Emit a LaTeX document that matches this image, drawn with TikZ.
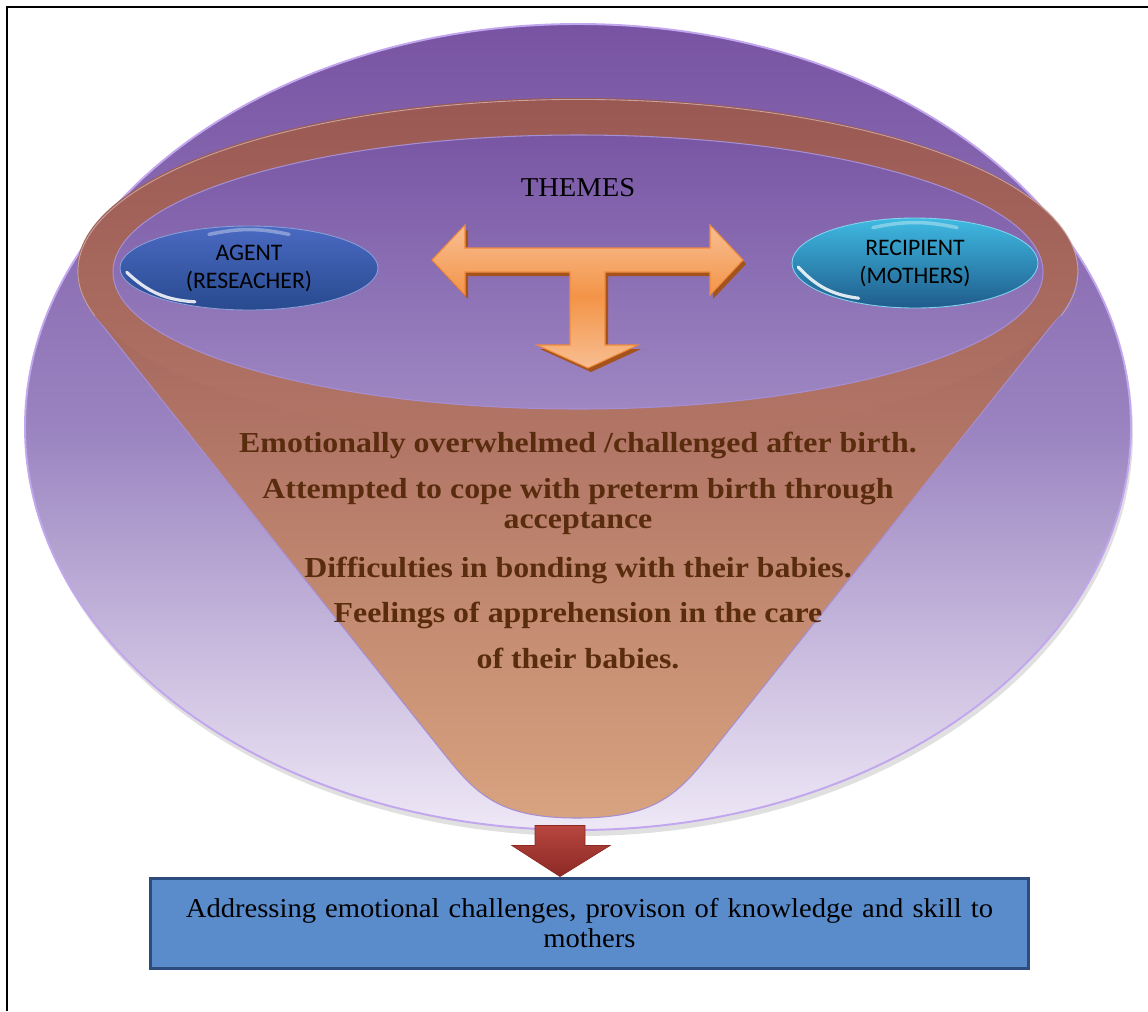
\documentclass[tikz,border=0pt]{standalone}
\usepackage{fontspec}
\setmainfont{Liberation Serif}
\newfontfamily\bubblefont{Carlito}
\newfontfamily\themefont[FakeStretch=1.1]{Liberation Serif}
\newfontfamily\boxfont[FakeStretch=1.05]{Liberation Serif}
\usepackage{tikz}
\usetikzlibrary{positioning,shapes.geometric,calc}
\usepackage{xcolor}
\definecolor{bowltop}{HTML}{7853A3}
\definecolor{bowlmid}{HTML}{9A83C0}
\definecolor{bowlbot}{HTML}{EEE8F6}
\definecolor{bowledge}{HTML}{C2A6EE}
\definecolor{rimtop}{HTML}{9A5853}
\definecolor{rimbot}{HTML}{B27666}
\definecolor{funneltop}{HTML}{A5675E}
\definecolor{funnelbot}{HTML}{D8A37F}
\definecolor{inneredge}{HTML}{A68ED2}
\definecolor{innertop}{HTML}{7856A4}
\definecolor{innerbot}{HTML}{9E87C3}
\definecolor{agenttop}{HTML}{4A69C2}
\definecolor{agentbot}{HTML}{284A8E}
\definecolor{reciptop}{HTML}{3FBAE2}
\definecolor{recipbot}{HTML}{1F5C8C}
\definecolor{tlight}{HTML}{F8BE92}
\definecolor{tdeep}{HTML}{F39447}
\definecolor{tline}{HTML}{EF8A3C}
\definecolor{tshadow}{HTML}{A4531C}
\definecolor{themetext}{HTML}{5A2C0E}
\definecolor{droptop}{HTML}{B8463F}
\definecolor{dropbot}{HTML}{8C2925}
\definecolor{boxfill}{HTML}{5A8BCB}
\definecolor{boxline}{HTML}{2C4C7E}

\begin{document}
\begin{tikzpicture}[
  x=0.02cm, y=-0.02cm,
  bubble/.style={ellipse, inner sep=0pt, align=center, draw=white!35!#1, line width=0.5pt,
    font=\bubblefont\fontsize{13.5}{16}\selectfont},
  theme/.style={anchor=base, font=\themefont\bfseries\fontsize{16.5}{18}\selectfont, text=themetext},
  glint/.style={white, line width=1.8pt, line cap=round, opacity=0.85},
  outbox/.style={draw=boxline, line width=1.7pt, fill=boxfill, minimum width=17.58cm,
    minimum height=1.8cm, text width=17.3cm, align=center, font=\boxfont\fontsize{15.5}{17}\selectfont}
]
\useasboundingbox (0,0) rectangle (1148,1011);
\draw[line width=1.5pt] (7,1011) -- (7,7) -- (1148,7);

% bowl, funnel and rim
\fill[black!12] (580,433) ellipse [x radius=553, y radius=403];
\shadedraw[top color=bowltop, bottom color=bowlbot, middle color=bowlmid, draw=bowledge, line width=1.1pt]
  (578,427) ellipse [x radius=553, y radius=403];
\shadedraw[top color=funneltop, bottom color=funnelbot, draw=inneredge, line width=0.6pt]
  (95,316) -- (445,755) .. controls (477,795) and (500,818) .. (577,818)
  .. controls (654,818) and (677,795) .. (709,755) -- (1059,316) -- cycle;
\shade[top color=rimtop, bottom color=rimbot]
  (577,270) ellipse [x radius=500, y radius=172];
\draw[rimtop!55!white, line width=0.5pt]
  (95,316) arc [start angle=165, end angle=375, x radius=500, y radius=172];
\shadedraw[top color=innertop, bottom color=innerbot, draw=inneredge, line width=0.6pt]
  (578,272) ellipse [x radius=465, y radius=137];

\node[font=\boxfont\fontsize{15.5}{17}\selectfont] (themes) at (578,188) {THEMES};

% T shaped arrow
\shadedraw[top color=tlight, bottom color=tlight, middle color=tdeep, draw=tline, line width=0.6pt,
  preaction={fill=tshadow, transform canvas={shift={(3,4)}}}]
  (432,260) -- (465,225) -- (465,248) -- (710,248) -- (710,225) -- (743,260) -- (710,295)
  -- (710,272) -- (605,272) -- (605,345) -- (638,345) -- (588,368) -- (537,345) -- (570,345)
  -- (570,272) -- (465,272) -- (465,295) -- cycle;

\node[bubble=agenttop, top color=agenttop, bottom color=agentbot, minimum width=5.16cm, minimum height=1.68cm]
  (agent) at (249,268) {AGENT\\(RESEACHER)};
\node[bubble=reciptop, top color=reciptop, bottom color=recipbot, minimum width=4.92cm, minimum height=1.8cm]
  (recipient) at (915,263) {RECIPIENT\\(MOTHERS)};
\draw[glint] ($(agent.center)!0.95!(agent.182)$) to[bend right=20] ($(agent.center)!0.9!(agent.212)$);
\draw[glint] ($(recipient.center)!0.95!(recipient.182)$) to[bend right=20] ($(recipient.center)!0.9!(recipient.212)$);
\draw[white, opacity=0.35, line width=2pt, line cap=round]
  ($(agent.center)!0.85!(agent.140)$) to[bend left=12] ($(agent.center)!0.85!(agent.40)$);
\draw[white, opacity=0.35, line width=2pt, line cap=round]
  ($(recipient.center)!0.85!(recipient.140)$) to[bend left=12] ($(recipient.center)!0.85!(recipient.40)$);

\node[theme] (t1) at (578,452) {Emotionally overwhelmed /challenged after birth.};
\node[theme] (t2) at (578,498) {Attempted to cope with preterm birth through};
\node[theme] (t2b) at (578,528) {acceptance};
\node[theme] (t3) at (578,577) {Difficulties in bonding with their babies.};
\node[theme] (t4) at (578,622) {Feelings of apprehension in the care};
\node[theme] (t4b) at (578,668) {of their babies.};

\node[outbox] (action) at (589.5,923) {Addressing emotional challenges, provison of knowledge and skill to\\mothers};

\coordinate (droptip) at ([xshift=-0.59cm]action.north);
\shadedraw[top color=droptop, bottom color=dropbot, draw=dropbot, line width=0.4pt]
  (droptip) -- ++(-48,-31) -- ++(23,0) -- ++(0,-20) -- ++(50,0) -- ++(0,20) -- ++(25,0) -- cycle;
\end{tikzpicture}
\end{document}
